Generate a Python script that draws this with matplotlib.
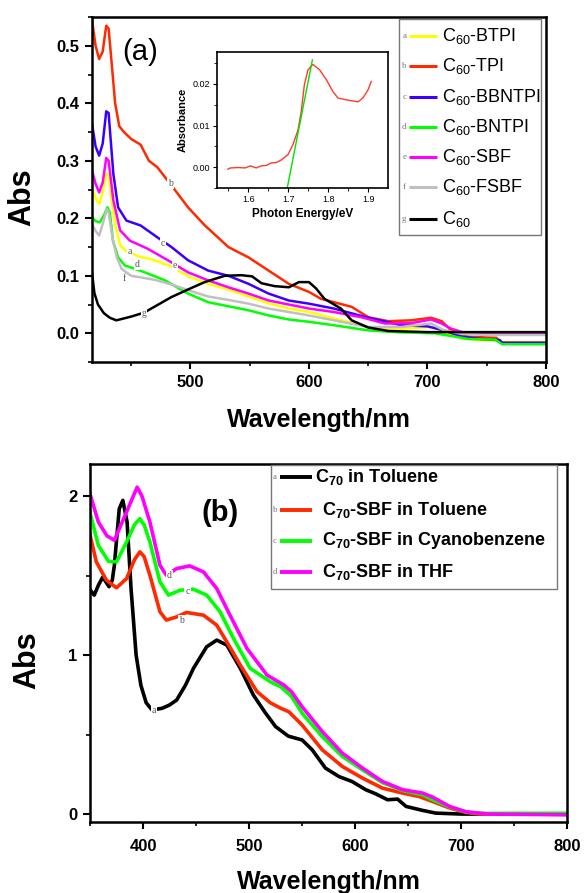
import matplotlib.pyplot as plt
from matplotlib.patches import Rectangle
from matplotlib.ticker import MultipleLocator, FormatStrFormatter

plt.rcParams['font.family'] = ['Liberation Sans', 'DejaVu Sans']
plt.rcParams['mathtext.default'] = 'regular'

# ---- panel (a): C60 derivatives ----
wl_btpi = [417, 420, 423, 426, 429, 431, 434, 437, 441, 446, 456, 470, 484, 498, 515, 532, 549, 566, 583, 600,
           621, 650, 678, 703, 714, 729, 745, 761, 763, 800]
abs_btpi = [0.254, 0.235, 0.225, 0.245, 0.278, 0.275, 0.225, 0.185, 0.152, 0.143, 0.134, 0.127, 0.116, 0.099,
            0.086, 0.076, 0.064, 0.052, 0.043, 0.037, 0.026, 0.011, 0.008, 0.011, 0.002, -0.009, -0.012, -0.013,
            -0.018, -0.018]

wl_tpi = [417, 420, 423, 426, 429, 431, 434, 436.5, 440, 444, 450, 458, 465, 472, 483, 498, 512, 532, 549, 566,
          583, 600, 610, 636, 650, 667, 686, 703, 712, 720, 734, 758, 763, 800]
abs_tpi = [0.545, 0.50, 0.477, 0.49, 0.535, 0.53, 0.46, 0.40, 0.36, 0.35, 0.338, 0.328, 0.30, 0.289, 0.26, 0.219,
           0.188, 0.15, 0.132, 0.109, 0.086, 0.072, 0.060, 0.046, 0.028, 0.021, 0.0225, 0.027, 0.021, 0.005,
           -0.006, -0.008, -0.016, -0.016]

wl_bbntpi = [417, 420, 423, 426, 429, 431, 435, 439, 446, 458, 472, 484, 498, 515, 532, 549, 566, 583, 600, 621,
             650, 678, 700, 714, 729, 745, 761, 763, 800]
abs_bbntpi = [0.364, 0.325, 0.309, 0.33, 0.386, 0.383, 0.277, 0.219, 0.196, 0.1875, 0.167, 0.15, 0.127, 0.109,
              0.10, 0.086, 0.069, 0.057, 0.0515, 0.043, 0.027, 0.014, 0.012, 0.005, -0.006, -0.010, -0.012,
              -0.017, -0.017]

wl_bntpi = [417, 420, 423.5, 427, 430, 432, 434.7, 439, 444.7, 461.6, 478.6, 498, 515, 532, 549, 566, 583, 600,
            621, 650, 678, 706, 723.5, 734.5, 757, 763, 800]
abs_bntpi = [0.202, 0.195, 0.193, 0.205, 0.219, 0.21, 0.161, 0.132, 0.118, 0.106, 0.092, 0.069, 0.054, 0.047,
             0.040, 0.031, 0.024, 0.020, 0.014, 0.005, 0.0015, 0.0, -0.006, -0.010, -0.011, -0.019, -0.019]

wl_sbf = [417, 420, 423, 426, 429, 431, 435, 440.7, 449, 464, 481, 498, 515, 532, 549, 566, 583, 600, 621, 644,
          664, 686, 703, 712, 720, 731, 760, 800]
abs_sbf = [0.283, 0.26, 0.245, 0.262, 0.305, 0.30, 0.231, 0.179, 0.161, 0.147, 0.127, 0.106, 0.092, 0.080, 0.069,
           0.057, 0.050, 0.043, 0.037, 0.028, 0.017, 0.0175, 0.024, 0.017, 0.008, 0.001, 0.0, 0.0]

wl_fsbf = [417, 420, 423, 426, 429.5, 431, 434.7, 438, 442, 450, 470, 487, 498, 515, 532, 549, 566, 583, 600, 621,
           650, 678, 703, 714, 729, 750, 800]
abs_fsbf = [0.19, 0.178, 0.17, 0.19, 0.216, 0.21, 0.161, 0.132, 0.112, 0.10, 0.093, 0.083, 0.075, 0.064, 0.058,
            0.0515, 0.043, 0.037, 0.031, 0.0225, 0.011, 0.011, 0.017, 0.005, -0.001, -0.003, -0.003]

wl_c60 = [417, 419, 422, 427, 432, 437.5, 450, 461, 484, 500, 512, 529, 543, 552, 560, 571, 583, 591.5, 600, 606,
          613, 627, 636, 650, 667, 700, 800]
abs_c60 = [0.105, 0.07, 0.05, 0.035, 0.027, 0.0225, 0.029, 0.036, 0.063, 0.078, 0.089, 0.10, 0.101, 0.099, 0.087,
           0.082, 0.080, 0.089, 0.089, 0.078, 0.060, 0.043, 0.0225, 0.010, 0.004, 0.002, 0.002]

labels_a = ['C$_{60}$-BTPI', 'C$_{60}$-TPI', 'C$_{60}$-BBNTPI', 'C$_{60}$-BNTPI', 'C$_{60}$-SBF',
            'C$_{60}$-FSBF', 'C$_{60}$']
letters_a = ['a', 'b', 'c', 'd', 'e', 'f', 'g']
colors_a = ['#FFFF00', '#FF2A00', '#3A00FF', '#00FF00', '#FF00FF', '#C0C0C0', '#000000']
# where the letters sit on the curves (wavelength, Abs)
tag_a = [(449, 0.142), (483, 0.26), (477, 0.156), (455, 0.12), (487, 0.118), (444, 0.096), (461, 0.034)]

# inset: band-gap plot
energy = [1.549, 1.555, 1.575, 1.592, 1.605, 1.62, 1.632, 1.645, 1.657, 1.67, 1.682, 1.699, 1.711, 1.724, 1.732,
          1.74, 1.749, 1.761, 1.778, 1.795, 1.811, 1.824, 1.849, 1.874, 1.886, 1.899, 1.907]
absorb = [-0.0005, -0.0002, -0.0001, -0.0002, 0.0003, -0.0002, 0.0003, 0.0004, 0.001, 0.0011, 0.0017, 0.003,
          0.0053, 0.0089, 0.0133, 0.0198, 0.0234, 0.0247, 0.0234, 0.021, 0.0182, 0.0166, 0.0161, 0.0157, 0.0166,
          0.0186, 0.0206]
tangent_e = [1.697, 1.760]
tangent_a = [-0.0051, 0.0258]

# ---- panel (b): C70 ----
wl_c70 = [349, 354, 358, 362, 365, 368, 371, 373, 377.6, 381, 385, 388.7, 393.5, 398, 403, 408.5, 418, 425,
          431.7, 440, 447.6, 460, 469.5, 479, 491.7, 504, 515, 525, 537, 550, 559.5, 572, 584.7, 597, 610, 619.5,
          630.5, 640, 648, 663.6, 676, 700, 800]
abs_c70 = [1.42, 1.377, 1.44, 1.49, 1.46, 1.43, 1.47, 1.565, 1.92, 1.973, 1.837, 1.42, 1.0, 0.81, 0.70, 0.655,
           0.665, 0.686, 0.717, 0.81, 0.917, 1.052, 1.094, 1.063, 0.917, 0.749, 0.64, 0.55, 0.49, 0.466, 0.404,
           0.289, 0.236, 0.205, 0.153, 0.127, 0.09, 0.094, 0.048, 0.023, 0.006, 0.0, 0.0]

wl_tol = [349, 356, 365.5, 375, 384.5, 392, 397, 401, 406.5, 416, 422, 431.7, 441, 457, 469.5, 479, 491.7, 507.5,
          520, 530, 537.4, 550, 569, 588, 607, 625.8, 644.7, 660.5, 673, 689, 704.7, 717, 800]
abs_tol = [1.785, 1.586, 1.471, 1.423, 1.481, 1.6, 1.649, 1.62, 1.502, 1.272, 1.22, 1.24, 1.268, 1.251, 1.188,
           1.083, 0.937, 0.77, 0.70, 0.665, 0.644, 0.56, 0.404, 0.299, 0.226, 0.163, 0.132, 0.11, 0.079, 0.038,
           0.01, 0.0, 0.0]

wl_cyano = [349, 357.9, 367.4, 375, 384.5, 392, 397, 401, 406.5, 416, 424, 435, 447.6, 460, 472.7, 485.3, 501,
            520, 530, 540, 550, 569, 588, 607, 625.8, 644.7, 663.6, 673, 689, 704.7, 720, 800]
abs_cyano = [1.921, 1.69, 1.59, 1.586, 1.711, 1.82, 1.858, 1.82, 1.711, 1.46, 1.377, 1.408, 1.414, 1.377, 1.272,
             1.105, 0.917, 0.832, 0.80, 0.74, 0.634, 0.487, 0.362, 0.278, 0.198, 0.148, 0.121, 0.09, 0.044, 0.013,
             0.004, 0.005]

wl_thf = [349, 357.9, 366, 373, 384.5, 394.5, 399, 406.5, 416, 422, 431.7, 444, 457, 469.5, 482, 498, 516.9,
          532.7, 540, 550, 569, 588, 607, 625.8, 644.7, 663.6, 673, 689, 704.7, 726, 800]
abs_thf = [2.036, 1.837, 1.75, 1.722, 1.9, 2.056, 2.0, 1.837, 1.565, 1.502, 1.544, 1.561, 1.523, 1.419, 1.251,
           1.042, 0.874, 0.812, 0.77, 0.675, 0.519, 0.383, 0.289, 0.205, 0.153, 0.132, 0.107, 0.048, 0.014, 0.0,
           -0.005]

labels_b = ['C$_{70}$ in Toluene', 'C$_{70}$-SBF in Toluene', 'C$_{70}$-SBF in Cyanobenzene',
            'C$_{70}$-SBF in THF']
letters_b = ['a', 'b', 'c', 'd']
colors_b = ['#000000', '#FF2A00', '#00FF00', '#FF00FF']
tag_b = [(410, 0.65), (436, 1.22), (442, 1.40), (425, 1.50)]


def style(ax, lw=1.8):
    for s in ax.spines.values():
        s.set_linewidth(lw)
    ax.tick_params(which='major', direction='out', length=5, width=1.5, labelsize=12, pad=4)
    ax.tick_params(which='minor', direction='out', length=3, width=1.2)
    for lab in ax.get_xticklabels() + ax.get_yticklabels():
        lab.set_fontweight('bold')


def tag(ax, x, y, s):
    ax.text(x, y, s, fontsize=7, family='Liberation Serif', color='#555555', ha='center', va='center',
            bbox=dict(facecolor='white', edgecolor='none', pad=0.6), zorder=5)


def legend_box(ax, x0, x1, y0, y1, rows, letters, colors, labels, line_x, text_x, fs, weight, lw):
    ax.add_patch(Rectangle((x0, y0), x1 - x0, y1 - y0, transform=ax.transAxes, facecolor='white',
                           edgecolor='#777777', linewidth=1.0, zorder=6))
    for y, let, c, lab, tx in zip(rows, letters, colors, labels, text_x):
        ax.plot(line_x, [y, y], color=c, lw=lw, transform=ax.transAxes, zorder=7, solid_capstyle='butt')
        ax.text(line_x[0] - 0.006, y, let, transform=ax.transAxes, fontsize=6.5, family='Liberation Serif',
                color='#777777', ha='right', va='center', zorder=7)
        ax.text(tx, y, lab, transform=ax.transAxes, fontsize=fs, fontweight=weight, ha='left', va='center',
                zorder=7)


fig = plt.figure(figsize=(5.85, 8.93), dpi=100)

# panel (a)
ax1 = fig.add_axes([0.1573, 0.5946, 0.7761, 0.3863])
series_a = [(wl_btpi, abs_btpi), (wl_tpi, abs_tpi), (wl_bbntpi, abs_bbntpi), (wl_bntpi, abs_bntpi),
            (wl_sbf, abs_sbf), (wl_fsbf, abs_fsbf), (wl_c60, abs_c60)]
order = [5, 0, 4, 2, 3, 1, 6]
for i in order:
    ax1.plot(series_a[i][0], series_a[i][1], color=colors_a[i], lw=1.8, solid_joinstyle='round', zorder=2 + i * 0.1)
for (x, y), let in zip(tag_a, letters_a):
    tag(ax1, x, y, let)
ax1.set_xlim(417, 800)
ax1.set_ylim(-0.05, 0.55)
ax1.xaxis.set_major_locator(MultipleLocator(100))
ax1.xaxis.set_minor_locator(MultipleLocator(50))
ax1.yaxis.set_major_locator(MultipleLocator(0.1))
ax1.yaxis.set_minor_locator(MultipleLocator(0.05))
ax1.yaxis.set_major_formatter(FormatStrFormatter('%.1f'))
style(ax1)
ax1.set_xlabel('Wavelength/nm', fontsize=18, fontweight='bold', labelpad=13)
ax1.set_ylabel('Abs', fontsize=22, fontweight='bold')
ax1.yaxis.set_label_coords(-0.121, 0.478)
ax1.text(0.106, 0.899, '(a)', transform=ax1.transAxes, fontsize=21, ha='center', va='center')
rows_a = [0.946, 0.858, 0.769, 0.680, 0.595, 0.508, 0.416]
legend_box(ax1, 0.676, 0.989, 0.368, 0.994, rows_a, letters_a, colors_a, labels_a, [0.698, 0.760],
           [0.771] * 7, 13, 'normal', 2.2)

# inset
axi = fig.add_axes([0.3704, 0.7891, 0.2923, 0.1523])
axi.plot(energy, absorb, color='#FF3B2A', lw=1.0)
axi.plot(tangent_e, tangent_a, color='#00E000', lw=1.0)
axi.set_xlim(1.521, 1.948)
axi.set_ylim(-0.0051, 0.0276)
axi.xaxis.set_major_locator(MultipleLocator(0.1))
axi.xaxis.set_minor_locator(MultipleLocator(0.05))
axi.yaxis.set_major_locator(MultipleLocator(0.01))
axi.yaxis.set_minor_locator(MultipleLocator(0.005))
axi.yaxis.set_major_formatter(FormatStrFormatter('%.2f'))
for s in axi.spines.values():
    s.set_linewidth(1.2)
axi.tick_params(which='major', direction='out', length=3, width=0.8, labelsize=6.5, pad=2)
axi.tick_params(which='minor', direction='out', length=2, width=0.6)
axi.set_xlabel('Photon Energy/eV', fontsize=8.5, fontweight='bold', labelpad=3)
axi.set_ylabel('Absorbance', fontsize=8, fontweight='bold', labelpad=3)

# panel (b)
ax2 = fig.add_axes([0.1538, 0.0795, 0.8159, 0.4006])
series_b = [(wl_c70, abs_c70), (wl_tol, abs_tol), (wl_cyano, abs_cyano), (wl_thf, abs_thf)]
for (x, y), c in zip(series_b, colors_b):
    ax2.plot(x, y, color=c, lw=2.6, solid_joinstyle='round')
for (x, y), let in zip(tag_b, letters_b):
    tag(ax2, x, y, let)
ax2.set_xlim(350, 800)
ax2.set_ylim(-0.05, 2.2)
ax2.xaxis.set_major_locator(MultipleLocator(100))
ax2.xaxis.set_minor_locator(MultipleLocator(50))
ax2.yaxis.set_major_locator(MultipleLocator(1))
ax2.yaxis.set_minor_locator(MultipleLocator(0.5))
style(ax2)
ax2.tick_params(axis='x', which='major', pad=7)
ax2.set_xlabel('Wavelength/nm', fontsize=18, fontweight='bold', labelpad=12)
ax2.set_ylabel('Abs', fontsize=22, fontweight='bold')
ax2.yaxis.set_label_coords(-0.10, 0.453)
ax2.text(0.273, 0.864, '(b)', transform=ax2.transAxes, fontsize=21, fontweight='bold', ha='center', va='center')
rows_b = [0.965, 0.872, 0.786, 0.700]
legend_box(ax2, 0.379, 0.979, 0.651, 0.998, rows_b, letters_b, colors_b, labels_b, [0.398, 0.465],
           [0.472, 0.486, 0.486, 0.486], 13, 'bold', 2.8)

fig.savefig('out.png', dpi=100)
